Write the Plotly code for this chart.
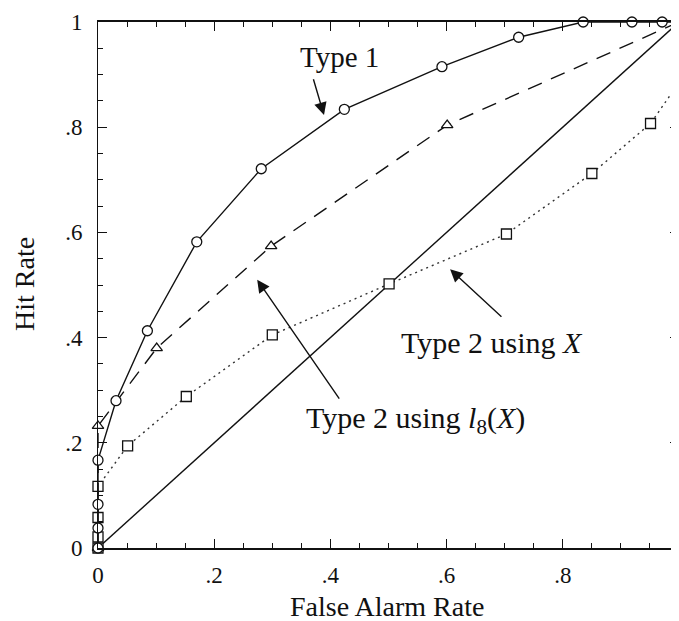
import plotly.graph_objects as go

# ---- data ----
# Type 1 (open circles, solid line)
type1_far = [0, 0, 0, 0, 0.031, 0.085, 0.170, 0.281, 0.424, 0.592, 0.724, 0.835, 0.919, 0.971, 1.0]
type1_hit = [0, 0.038, 0.083, 0.167, 0.280, 0.413, 0.582, 0.721, 0.834, 0.915, 0.971, 1.0, 1.0, 1.0, 1.0]

# Type 2 using l8(X) (open triangles, dashed line)
l8_far = [0, 0, 0.101, 0.298, 0.601, 1.0]
l8_hit = [0, 0.232, 0.380, 0.574, 0.804, 1.0]

# Type 2 using X (open squares, dotted line)
x_far = [0, 0, 0, 0, 0.051, 0.152, 0.300, 0.501, 0.703, 0.850, 0.951, 1.0, 1.0, 1.0]
x_hit = [0, 0.021, 0.058, 0.117, 0.194, 0.288, 0.405, 0.502, 0.597, 0.712, 0.807, 0.885, 0.944, 1.0]

# chance diagonal
diag_far = [0, 1]
diag_hit = [0, 1]

tick_vals = [0, 0.2, 0.4, 0.6, 0.8, 1.0]
tick_text = ["0", ".2", ".4", ".6", ".8", "1"]

FONT = "Liberation Serif"
INK = "#111111"

fig = go.Figure()

fig.add_trace(go.Scatter(
    x=diag_far, y=diag_hit, mode="lines",
    line=dict(color=INK, width=1.4), hoverinfo="skip"))

fig.add_trace(go.Scatter(
    x=x_far, y=x_hit, mode="lines+markers", cliponaxis=False,
    line=dict(color="#333333", width=1.4, dash="2px,4px"),
    marker=dict(symbol="square", size=10, color="white",
                line=dict(color=INK, width=1.3))))

fig.add_trace(go.Scatter(
    x=l8_far, y=l8_hit, mode="lines+markers", cliponaxis=False,
    line=dict(color=INK, width=1.4, dash="15px,10px"),
    marker=dict(symbol="triangle-up", size=10, color="white",
                line=dict(color=INK, width=1.3))))

fig.add_trace(go.Scatter(
    x=type1_far, y=type1_hit, mode="lines+markers", cliponaxis=False,
    line=dict(color=INK, width=1.4),
    marker=dict(symbol="circle", size=10, color="white",
                line=dict(color=INK, width=1.3))))

axis_common = dict(
    range=[0, 1], tickvals=tick_vals, ticktext=tick_text,
    ticks="inside", ticklen=9, tickwidth=1.2, tickcolor=INK,
    showline=True, linecolor=INK, mirror="ticks",
    showgrid=False, zeroline=False,
    tickfont=dict(family=FONT, size=23, color=INK),
    minor=dict(dtick=0.05, ticks="inside", ticklen=5, tickwidth=1.2,
               tickcolor=INK, showgrid=False),
)

fig.update_xaxes(**axis_common, linewidth=1.8, ticklabelstandoff=5)
fig.update_yaxes(**axis_common, linewidth=1.0, ticklabelstandoff=10)

# the page body adds an 8px offset; margins compensate so the plot area
# lands on x 98..679, y 22..548 of the window
W, H = 679, 621
OFF = 8
L, R, T, B = 90, 8, 14, 81

fig.update_layout(
    width=W, height=H,
    margin=dict(l=L, r=R, t=T, b=B, autoexpand=False),
    plot_bgcolor="white", paper_bgcolor="white",
    showlegend=False,
    font=dict(family=FONT, color=INK),
)

x0, x1 = OFF + L, OFF + W - R
y0, y1 = OFF + H - B, OFF + T

def px2paper(px, py):
    return (px - x0) / (x1 - x0), (y0 - py) / (y0 - y1)

tx, ty = px2paper(387, 606)
fig.add_annotation(text="False Alarm Rate", x=tx, y=ty, xref="paper", yref="paper",
                   xanchor="center", yanchor="middle",
                   showarrow=False, font=dict(family=FONT, size=28, color=INK))
tx, ty = px2paper(24, 284)
fig.add_annotation(text="Hit Rate", x=tx, y=ty, xref="paper", yref="paper",
                   xanchor="center", yanchor="middle",
                   showarrow=False, textangle=-90, font=dict(family=FONT, size=28, color=INK))

# curve labels
fig.add_annotation(text="Type 1", x=0.415, y=0.933, xref="x", yref="y",
                   xanchor="center", yanchor="middle",
                   showarrow=False, font=dict(family=FONT, size=29, color=INK))
fig.add_annotation(text="Type 2 using <i>X</i>", x=0.678, y=0.390, xref="x", yref="y",
                   xanchor="center", yanchor="middle",
                   showarrow=False, font=dict(family=FONT, size=30, color=INK))
fig.add_annotation(text="Type 2 using <i>l</i><sub>8</sub>(<i>X</i>)", x=0.546, y=0.243,
                   xref="x", yref="y", xanchor="center", yanchor="middle",
                   showarrow=False, font=dict(family=FONT, size=30, color=INK))

# arrows (head at x,y ; tail at ax,ay)
arrows = [
    (0.389, 0.823, 0.370, 0.894),
    (0.606, 0.530, 0.697, 0.437),
    (0.274, 0.510, 0.417, 0.281),
]
for hx, hy, tx_, ty_ in arrows:
    fig.add_annotation(text="", x=hx, y=hy, ax=tx_, ay=ty_, xref="x", yref="y",
                       axref="x", ayref="y", showarrow=True, arrowhead=2,
                       arrowsize=1.8, arrowwidth=1.4, arrowcolor=INK)

fig.write_html("out.html")
